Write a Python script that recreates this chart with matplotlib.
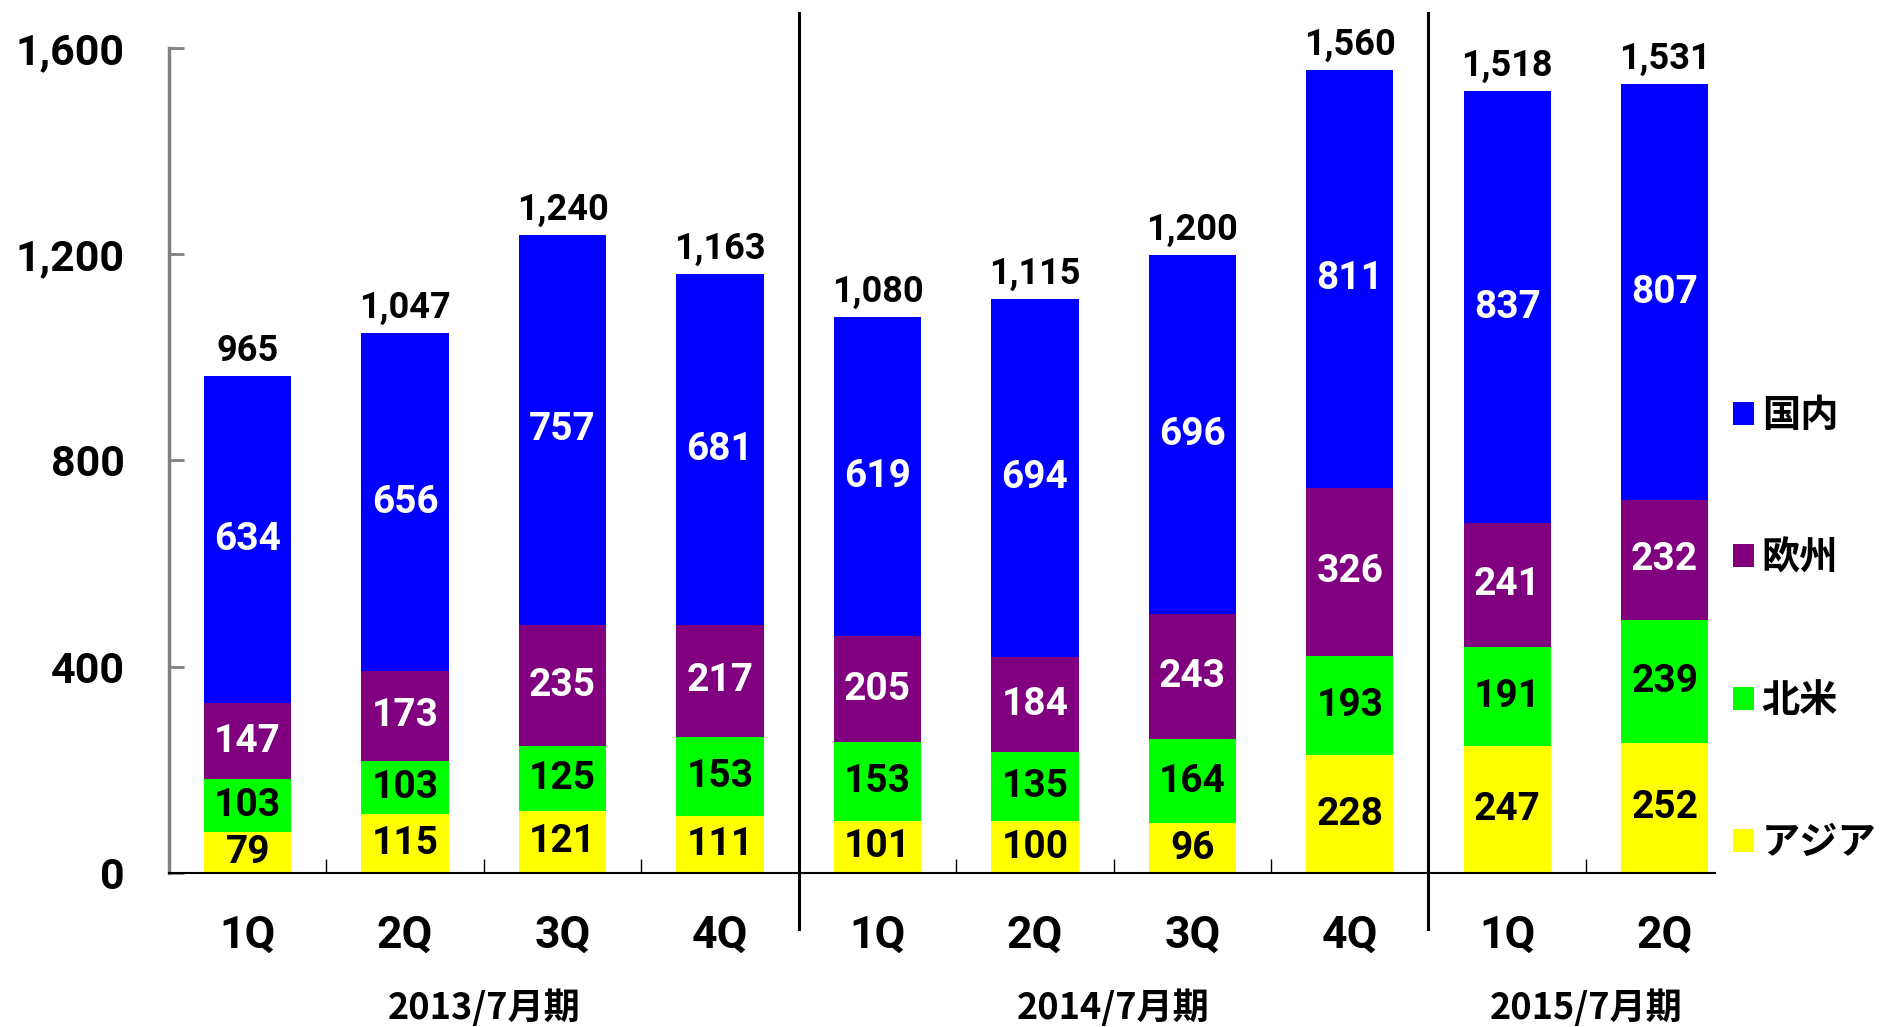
import numpy as np
import matplotlib
matplotlib.use("Agg")
import matplotlib.pyplot as plt
from matplotlib.patches import Patch

plt.rcParams['font.family'] = ['Roboto', 'Noto Sans CJK JP', 'DejaVu Sans']

quarters = ["1Q", "2Q", "3Q", "4Q", "1Q", "2Q", "3Q", "4Q", "1Q", "2Q"]
groups = ["2013/7月期", "2014/7月期", "2015/7月期"]
group_centers = [1.5, 5.5, 8.5]
group_breaks = [3.5, 7.5]

asia = [79, 115, 121, 111, 101, 100, 96, 228, 247, 252]
north_america = [103, 103, 125, 153, 153, 135, 164, 193, 191, 239]
europe = [147, 173, 235, 217, 205, 184, 243, 326, 241, 232]
domestic = [634, 656, 757, 681, 619, 694, 696, 811, 837, 807]
totals = [965, 1047, 1240, 1163, 1080, 1115, 1200, 1560, 1518, 1531]

series = [
    ("アジア", asia, "#FFFF00", "black"),
    ("北米", north_america, "#00FF00", "black"),
    ("欧州", europe, "#800080", "white"),
    ("国内", domestic, "#0000FF", "white"),
]

fig = plt.figure(figsize=(18.83, 10.27), dpi=100)
ax = fig.add_axes([0.0897, 0.150, 0.8211, 0.8033])

x = np.arange(len(quarters))
bottom = np.zeros(len(quarters))
for name, vals, color, tcolor in series:
    vals = np.array(vals)
    ax.bar(x, vals, width=0.555, bottom=bottom, color=color, edgecolor="none")
    for xi, b, v in zip(x, bottom, vals):
        ax.text(xi, b + v / 2, f"{v:,}", ha="center", va="center",
                color=tcolor, fontsize=28, fontweight="bold")
    bottom += vals

for xi, b, t in zip(x, bottom, totals):
    ax.annotate(f"{t:,}", (xi, b), xytext=(0, 5), textcoords="offset points",
                ha="center", va="bottom", fontsize=26, fontweight="bold",
                annotation_clip=False)

ax.set_xlim(-0.5, 9.32)
ax.set_ylim(0, 1600)
ax.set_yticks([0, 400, 800, 1200, 1600])
ax.set_yticklabels([f"{v:,}" for v in [0, 400, 800, 1200, 1600]])
ax.tick_params(axis="y", direction="in", length=11, width=2, color="#808080",
               pad=32, labelsize=31)
for lab in ax.get_yticklabels():
    lab.set_fontweight("bold")

ax.set_xticks(x)
ax.set_xticklabels(quarters, fontsize=32, fontweight="bold")
ax.tick_params(axis="x", which="major", length=0, pad=30)
ax.set_xticks(np.arange(0.5, 9.0, 1.0), minor=True)
ax.tick_params(axis="x", which="minor", direction="in", length=10, width=1, color="black")

for s in ["top", "right"]:
    ax.spines[s].set_visible(False)
ax.spines["left"].set_color("#808080")
ax.spines["left"].set_linewidth(2.5)
ax.spines["bottom"].set_color("black")
ax.spines["bottom"].set_linewidth(1.5)

for gb in group_breaks:
    ax.axvline(gb, ymin=-0.068, ymax=1.042, color="black", linewidth=2.2, clip_on=False)

for g, gc in zip(groups, group_centers):
    ax.text(gc, -0.1636, g, transform=ax.get_xaxis_transform(), ha="center", va="center",
            fontsize=26, fontweight="bold", family=["Noto Sans CJK JP"])

handles = [Patch(facecolor=c, edgecolor="none", label=n) for n, _, c, _ in series[::-1]]
leg = ax.legend(handles=handles, loc="center left", bbox_to_anchor=(1733 / 1883, 1 - 629 / 1027),
                bbox_transform=fig.transFigure, frameon=False, borderpad=0, borderaxespad=0,
                handlelength=0.55, handleheight=0.55, handletextpad=0.2, labelspacing=2.7,
                prop={"family": ["Noto Sans CJK JP"], "weight": "bold", "size": 27.5})

fig.savefig("out.png", dpi=100)
